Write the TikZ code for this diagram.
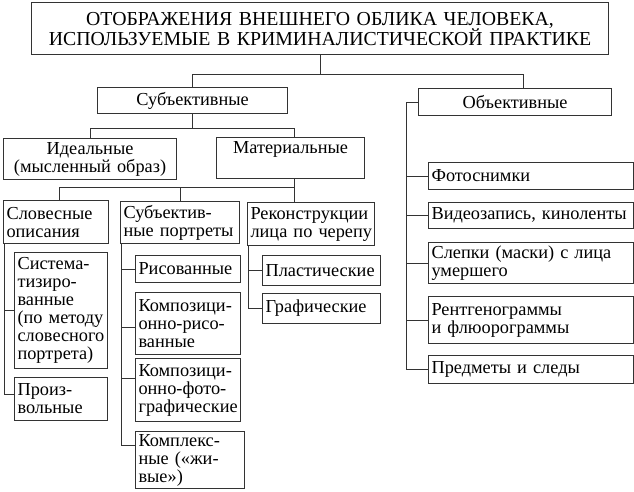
\documentclass[tikz,border=0pt]{standalone}
\usepackage{fontspec}
\setmainfont{Liberation Serif}
\usepackage{tikz}

\begin{document}
\begin{tikzpicture}[x=1pt,y=-1pt,
	component/.style={draw=black!80,line width=1.1pt,shape=rectangle,inner xsep=3pt,inner ysep=0pt,anchor=north west,align=left,font=\fontsize{18.3}{18}\selectfont},
	centred/.style={component,align=center},
	link/.style={draw=black!80,line width=1pt}]
	\useasboundingbox (0,0) rectangle (634,491);
	%%%
	\node[centred,text width=571,minimum height=52,font=\fontsize{19.8}{20}\selectfont] (title) at (31,2) {ОТОБРАЖЕНИЯ ВНЕШНЕГО ОБЛИКА ЧЕЛОВЕКА,\\ИСПОЛЬЗУЕМЫЕ В КРИМИНАЛИСТИЧЕСКОЙ ПРАКТИКЕ};
	\node[centred,text width=184,minimum height=26] (subj) at (97,87) {Субъективные};
	\node[centred,text width=187,minimum height=27] (obj) at (418,88) {Объективные};
	\node[centred,text width=167,minimum height=41] (ideal) at (3,138) {Идеальные\\(мысленный~образ)};
	\node[centred,text width=142,inner ysep=3pt,text height=13,text depth=22] (mat) at (216,137) {Материальные};
	%%%
	\node[component,text width=99,minimum height=43] (verbal) at (3,200) {Словесные\\описания};
	\node[component,text width=113,minimum height=42] (portr) at (120,201) {Субъектив-\\ные~портреты};
	\node[component,text width=121,minimum height=43] (recon) at (247,202) {Реконструкции\\лица~по~черепу};
	%%%
	\node[component,text width=87,minimum height=116] (syst) at (14,252) {Система-\\тизиро-\\ванные\\(по~методу\\словесного\\портрета)};
	\node[component,text width=87,minimum height=43] (arb) at (14,377) {Произ-\\вольные};
	%%%
	\node[component,text width=99,minimum height=27] (drawn) at (135,255) {Рисованные};
	\node[component,text width=99,minimum height=62] (compdr) at (135,292) {Композици-\\онно-рисо-\\ванные};
	\node[component,text width=99,minimum height=63] (compph) at (135,358) {Композици-\\онно-фото-\\графические};
	\node[component,text width=103,minimum height=57] (complex) at (135,431) {Комплекс-\\ные~(«жи-\\вые»)};
	%%%
	\node[component,text width=112,minimum height=30] (plast) at (262,255) {Пластические};
	\node[component,text width=112,minimum height=30] (graph) at (262,293) {Графические};
	%%%
	\node[component,text width=199,minimum height=27] (photo) at (428,162) {Фотоснимки};
	\node[component,text width=199,minimum height=26] (video) at (428,202) {Видеозапись,~киноленты};
	\node[component,text width=199,minimum height=41] (casts) at (428,242) {Слепки (маски) с~лица\\умершего};
	\node[component,text width=199,minimum height=47] (xray) at (428,296) {Рентгенограммы\\и~флюорограммы};
	\node[component,text width=199,minimum height=28] (traces) at (428,355) {Предметы и~следы};
	%%%
	\draw[link] (title.south) -- ++(0,19) coordinate (fork);
	\draw[link] (subj.north) |- (fork) -| ([xshift=8pt]obj.north);
	\draw[link] (subj.south) -- ++(0,14) coordinate (subjfork);
	\draw[link] (ideal.north) |- (subjfork) -| ([xshift=4pt]mat.north);
	\draw[link] ([xshift=4pt]mat.south) -- ++(0,8) coordinate (matfork);
	\draw[link] (verbal.north) ++(3,0) |- (matfork);
	\draw[link] (portr.north) |- (matfork);
	\draw[link] (matfork) -- (matfork |- recon.north);
	%%%
	\draw[link] ([xshift=1pt]verbal.south west) |- (syst.west);
	\draw[link] ([xshift=1pt]verbal.south west) |- ([yshift=5pt]arb.west);
	\draw[link] ([xshift=1pt]portr.south west) |- (drawn.west);
	\draw[link] ([xshift=1pt]portr.south west) |- ([yshift=-4pt]compdr.west);
	\draw[link] ([xshift=1pt]portr.south west) |- ([yshift=12pt]compph.west);
	\draw[link] ([xshift=1pt]portr.south west) |- ([yshift=15pt]complex.west);
	\draw[link] ([xshift=1pt]recon.south west) |- (plast.west);
	\draw[link] ([xshift=1pt]recon.south west) |- (graph.west);
	%%%
	\draw[link] (obj.west) -- ++(-12,0) |- (photo.west);
	\draw[link] (obj.west) -- ++(-12,0) |- (video.west);
	\draw[link] (obj.west) -- ++(-12,0) |- (casts.west);
	\draw[link] (obj.west) -- ++(-12,0) |- (xray.west);
	\draw[link] (obj.west) -- ++(-12,0) |- (traces.west);
\end{tikzpicture}
\end{document}
